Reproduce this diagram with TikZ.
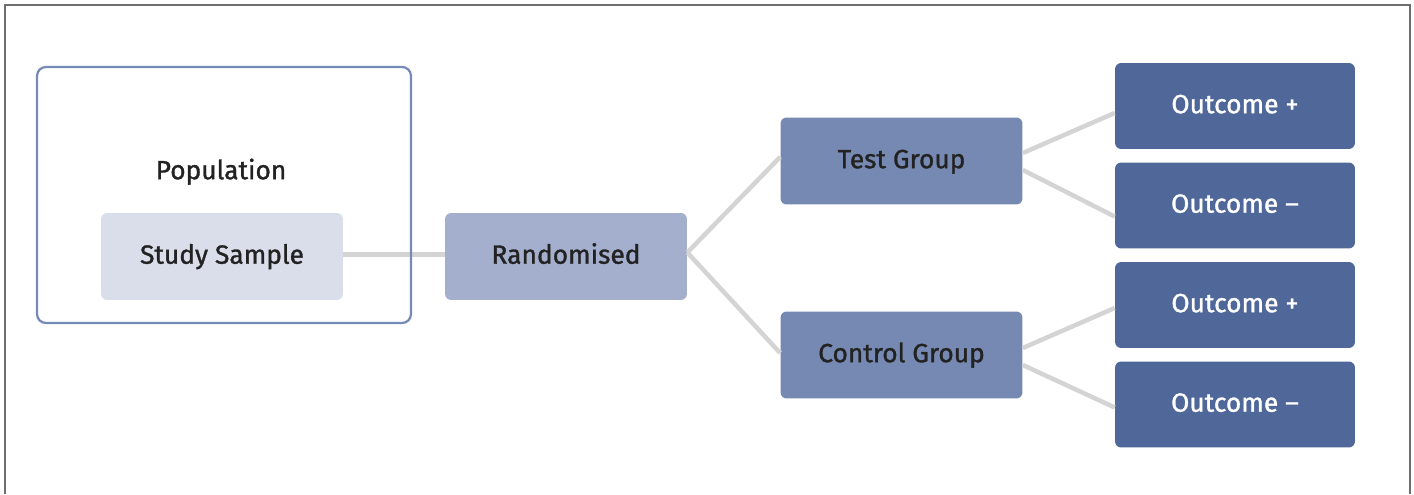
\documentclass[tikz,border=0pt]{standalone}
\usepackage{fontspec}
\setmainfont{Fira Sans}
\newfontfamily\boxfont{Fira Sans}[FakeBold=1.2]
\usetikzlibrary{calc}

\definecolor{frameline}{HTML}{6E6E6E}
\definecolor{popline}{HTML}{7689B8}
\definecolor{samplefill}{HTML}{D9DEEA}
\definecolor{randfill}{HTML}{A3AFCC}
\definecolor{groupfill}{HTML}{7689B2}
\definecolor{outfill}{HTML}{4F6899}
\definecolor{linkgrey}{HTML}{D4D4D4}
\definecolor{textdark}{HTML}{222222}

\tikzset{
  label text/.style={font=\boxfont\fontsize{15}{18}\selectfont, text=textdark,
    text height=8.2pt, text depth=0pt},
  box/.style={label text, rounded corners=3.5pt, minimum width=4.84cm,
    minimum height=1.74cm, inner sep=0pt},
  outbox/.style={box, fill=outfill, text=white, minimum width=4.8cm, minimum height=1.72cm},
  link/.style={draw=linkgrey, line width=0.09cm},
}

\begin{document}
\begin{tikzpicture}[x=0.02cm, y=-0.02cm]
\useasboundingbox (0,0) rectangle (1414,494);
% Outer frame, open at the bottom
\draw[frameline, line width=0.7pt] (5,494) -- (5,5) -- (1410,5) -- (1410,494);
% Boxes
\node[box, fill=samplefill] (sample) at (222,256.5) {Study Sample};
\node[box, fill=randfill] (rand) at (566,256.5) {Randomised};
\node[box, fill=groupfill] (test) at (901.5,161) {Test Group};
\node[box, fill=groupfill] (control) at (901.5,355) {Control Group};
\node[outbox] (testpos) at (1235,106) {Outcome +};
\node[outbox] (testneg) at (1235,205.5) {Outcome –};
\node[outbox] (ctrlpos) at (1235,305) {Outcome +};
\node[outbox] (ctrlneg) at (1235,404.5) {Outcome –};
% Connectors between the boxes
\draw[link] (sample.east) ++(0,-2) coordinate (s1) -- (s1 -| rand.west);
\draw[link] ($(rand.east)+(0,-4)$) coordinate (r1) -- ($(test.west)+(0,-4)$);
\draw[link] (r1) -- ($(control.west)+(0,-2)$);
\draw[link] ($(test.east)+(0,-8)$) -- ($(testpos.west)+(0,7)$);
\draw[link] ($(test.east)+(0,9)$) -- ($(testneg.west)+(0,11)$);
\draw[link] ($(control.east)+(0,-7)$) -- ($(ctrlpos.west)+(0,3)$);
\draw[link] ($(control.east)+(0,10)$) -- ($(ctrlneg.west)+(0,3)$);
% Population frame round the sample
\node[draw=popline, line width=0.045cm, rounded corners=5pt, minimum width=7.48cm,
  minimum height=5.12cm] (pop) at (224,195) {};
\node[label text] (poplabel) at (221,172) {Population};
\end{tikzpicture}
\end{document}
